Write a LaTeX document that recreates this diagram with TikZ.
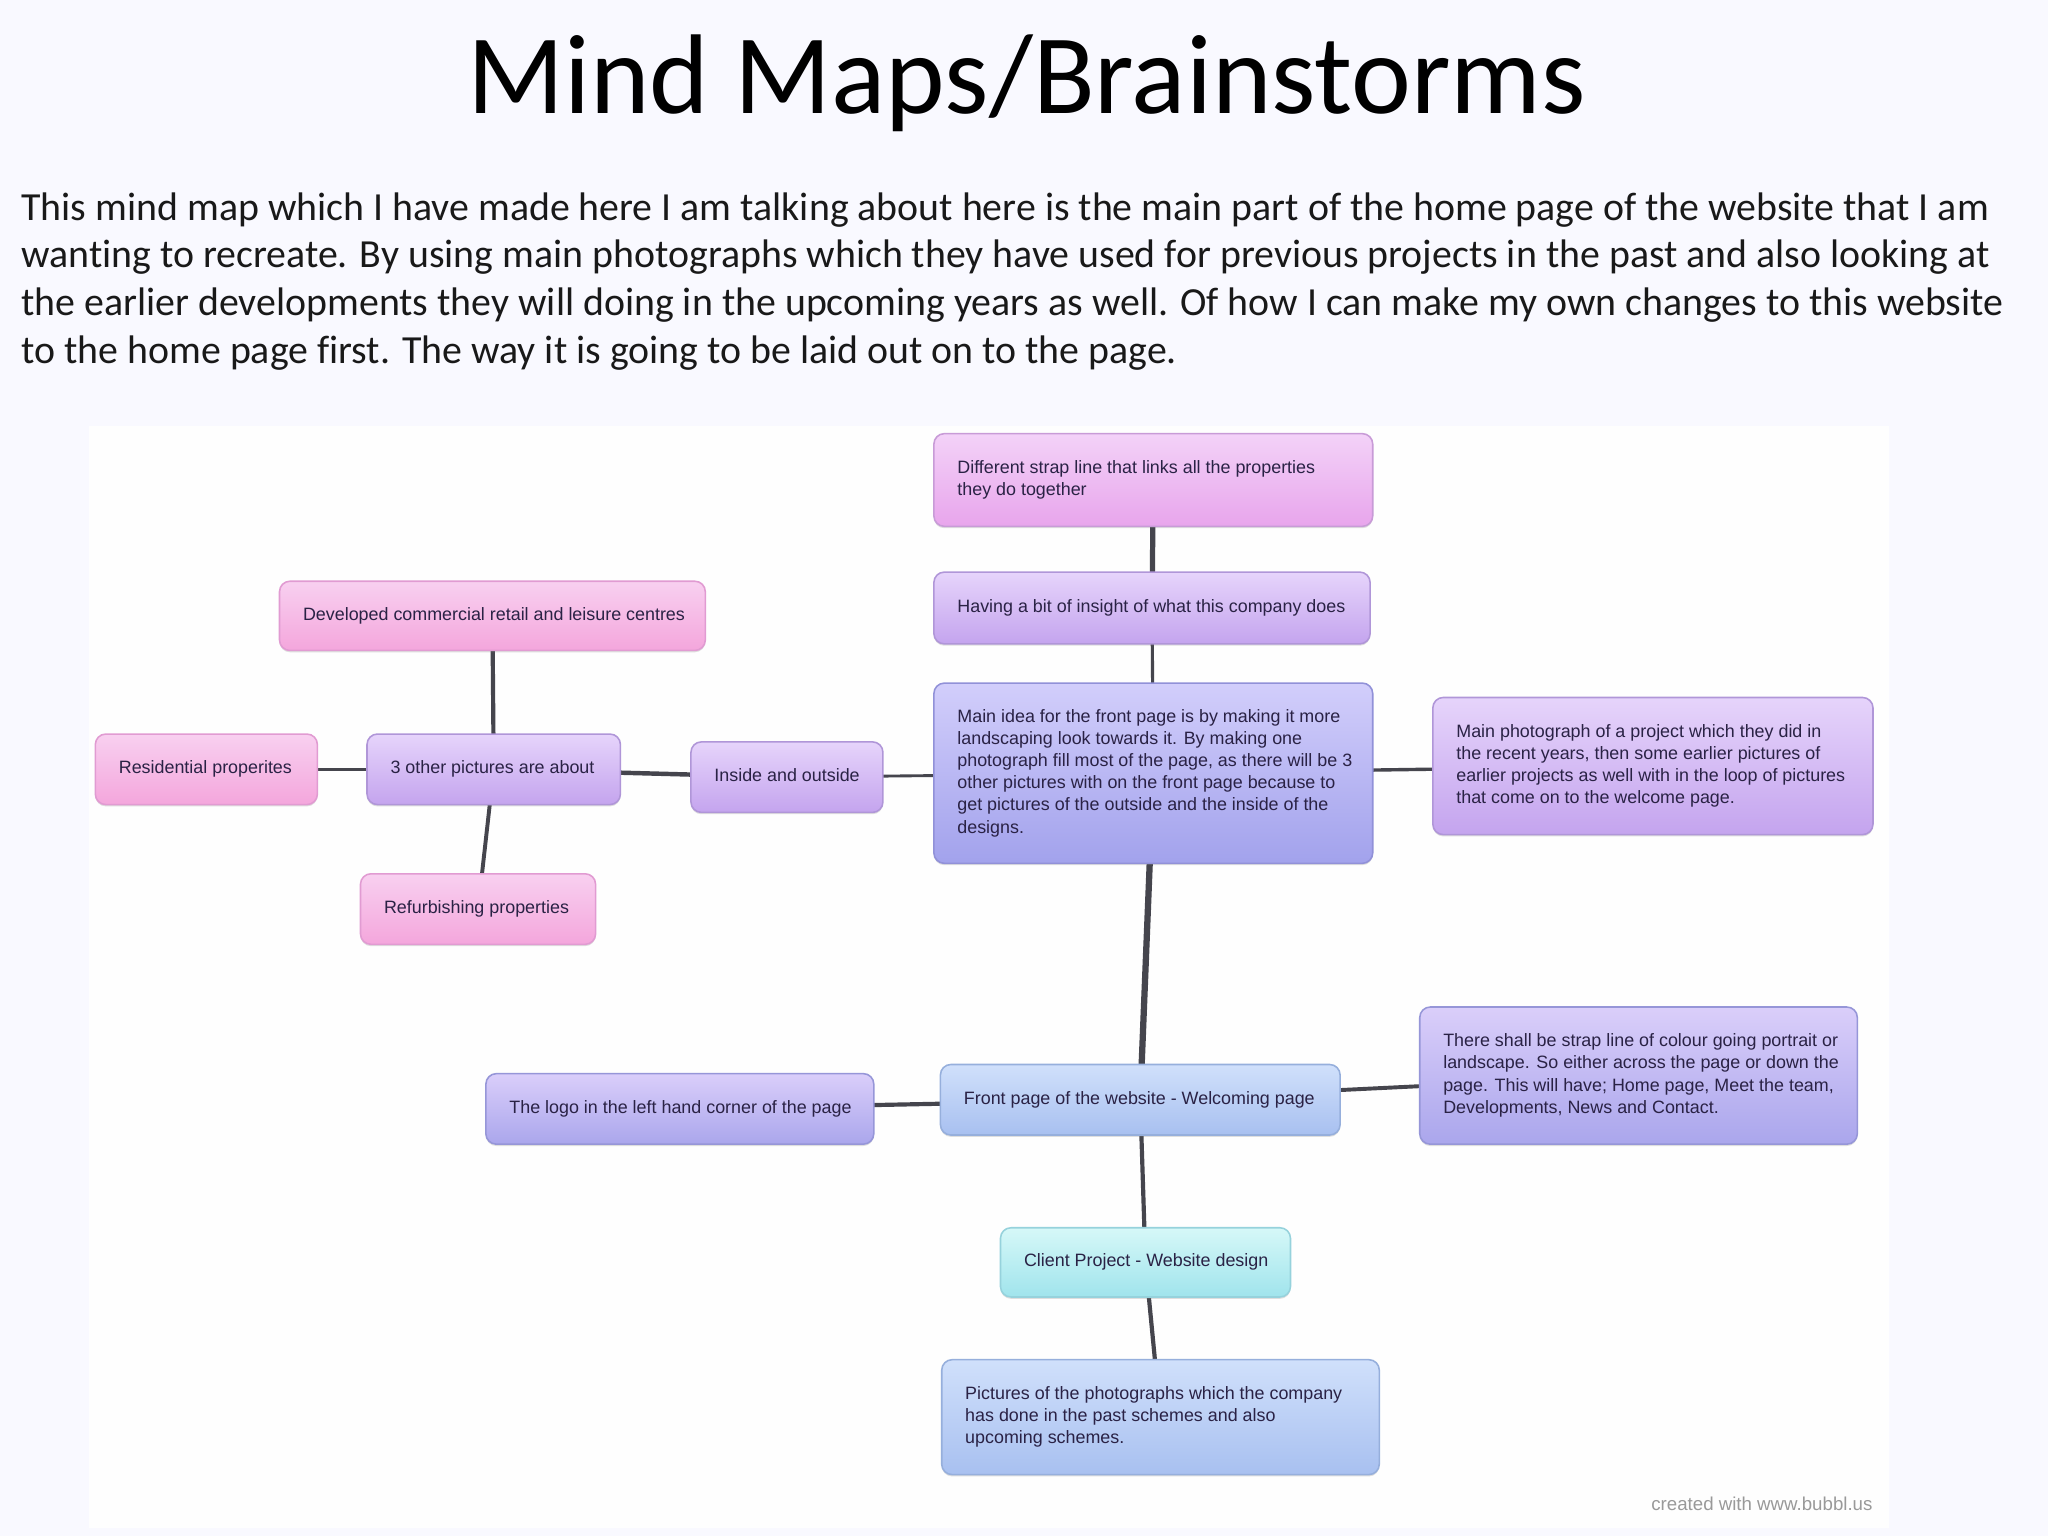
\documentclass[tikz,border=0pt]{standalone}
\usepackage{fontspec}
\setmainfont[Ligatures=NoCommon]{Carlito}
\newfontfamily\boxfont{Liberation Sans}
\usetikzlibrary{shadows,backgrounds}
\definecolor{pagebg}{HTML}{F9F9FF}
\definecolor{panelbg}{HTML}{FEFEFE}
\definecolor{linkcol}{HTML}{45454D}
\definecolor{boxtext}{HTML}{2A2245}
\tikzset{
  mapbox/.style={draw, line width=.6pt, rounded corners=4pt, inner sep=0pt, outer sep=0pt, text=boxtext,
    font=\boxfont\fontsize{6.85}{8.5}\selectfont,
    drop shadow={shadow xshift=0pt, shadow yshift=-.7pt, opacity=.25, fill=black!50}},
  pinkb/.style={mapbox, draw={rgb,255:red,225;green,155;blue,210}, top color={rgb,255:red,248;green,208;blue,240}, middle color={rgb,255:red,252;green,196;blue,236}, bottom color={rgb,255:red,244;green,166;blue,220}},
  orchidb/.style={mapbox, draw={rgb,255:red,200;green,155;blue,215}, top color={rgb,255:red,243;green,210;blue,248}, middle color={rgb,255:red,253;green,200;blue,251}, bottom color={rgb,255:red,232;green,165;blue,236}},
  lilacb/.style={mapbox, draw={rgb,255:red,176;green,150;blue,216}, top color={rgb,255:red,230;green,212;blue,251}, middle color={rgb,255:red,222;green,196;blue,248}, bottom color={rgb,255:red,196;green,164;blue,238}},
  violetb/.style={mapbox, draw={rgb,255:red,145;green,145;blue,216}, top color={rgb,255:red,210;green,206;blue,251}, middle color={rgb,255:red,186;green,184;blue,246}, bottom color={rgb,255:red,162;green,162;blue,236}},
  periwb/.style={mapbox, draw={rgb,255:red,150;green,150;blue,216}, top color={rgb,255:red,218;green,206;blue,250}, middle color={rgb,255:red,198;green,188;blue,246}, bottom color={rgb,255:red,170;green,166;blue,236}},
  blueb/.style={mapbox, draw={rgb,255:red,150;green,175;blue,220}, top color={rgb,255:red,208;green,224;blue,251}, middle color={rgb,255:red,192;green,212;blue,248}, bottom color={rgb,255:red,168;green,192;blue,240}},
  cyanb/.style={mapbox, draw={rgb,255:red,150;green,210;blue,220}, top color={rgb,255:red,214;green,248;blue,248}, middle color={rgb,255:red,196;green,240;blue,244}, bottom color={rgb,255:red,160;green,228;blue,236}},
  link/.style={draw=linkcol, line cap=butt},
}
\newcommand{\mmnode}[7]{%
  \pgfmathsetmacro{\mmw}{(#4-#2)/2}%
  \pgfmathsetmacro{\mmh}{(#5-#3)/2}%
  \node[#6, minimum width=\mmw pt, minimum height=\mmh pt] (#1) at ({(#2+#4)/2},{(#3+#5)/2})
    {\makebox[\mmw pt][l]{\hspace{9pt}\raisebox{-1pt}{\begin{tabular}{@{}l@{}}#7\end{tabular}}}};%
}
\begin{document}
\begin{tikzpicture}[x=.5pt,y=-.5pt]
\useasboundingbox (0,0) rectangle (1568,1176);
\node[font=\fontsize{43.4}{52}\selectfont, text=black, inner sep=0pt] (title) at (786,64) {Mind Maps/Brainstorms};
\node[anchor=north west, inner sep=0pt, align=left, text=black!90, font=\fontsize{15.25}{18.25}\selectfont] (intro) at (16,147) {This mind map which I have made here I am talking about here is the main part of the home page of the website that I am\\
wanting to recreate. By using main photographs which they have used for previous projects in the past and also looking at\\
the earlier developments they will doing in the upcoming years as well. Of how I can make my own changes to this website\\
to the home page first. The way it is going to be laid out on to the page.};

\mmnode{strap}{715}{332}{1051}{403}{orchidb}{Different strap line that links all the properties\\they do together}
\mmnode{insight}{715}{438}{1049}{493}{lilacb}{Having a bit of insight of what this company does}
\mmnode{main}{715}{523}{1051}{661}{violetb}{Main idea for the front page is by making it more\\landscaping look towards it. By making one\\photograph fill most of the page, as there will be 3\\other pictures with on the front page because to\\get pictures of the outside and the inside of the\\designs.}
\mmnode{photo}{1097}{534}{1434}{639}{lilacb}{Main photograph of a project which they did in\\the recent years, then some earlier pictures of\\earlier projects as well with in the loop of pictures\\that come on to the welcome page.}
\mmnode{inout}{529}{568}{676}{622}{lilacb}{Inside and outside}
\mmnode{three}{281}{562}{475}{616}{lilacb}{3 other pictures are about}
\mmnode{resid}{73}{562}{243}{616}{pinkb}{Residential properites}
\mmnode{dev}{214}{445}{540}{498}{pinkb}{Developed commercial retail and leisure centres}
\mmnode{refurb}{276}{669}{456}{723}{pinkb}{Refurbishing properties}
\mmnode{front}{720}{815}{1026}{869}{blueb}{Front page of the website - Welcoming page}
\mmnode{logo}{372}{822}{669}{876}{periwb}{The logo in the left hand corner of the page}
\mmnode{strapl}{1087}{771}{1422}{876}{periwb}{There shall be strap line of colour going portrait or\\landscape. So either across the page or down the\\page. This will have; Home page, Meet the team,\\Developments, News and Contact.}
\mmnode{client}{766}{940}{988}{993}{cyanb}{Client Project - Website design}
\mmnode{pics}{721}{1041}{1056}{1129}{blueb}{Pictures of the photographs which the company\\has done in the past schemes and also\\upcoming schemes.}

\node[anchor=east, inner sep=0pt, text=black!40, font=\boxfont\fontsize{7.15}{8}\selectfont] (credit) at (1434,1151) {created with www.bubbl.us};

\begin{pgfonlayer}{background}
\fill[pagebg] (0,0) rectangle (1568,1176);
\fill[panelbg] (68,326) rectangle (1446,1170);
\draw[link, line width=2pt] (strap) -- (insight);
\draw[link, line width=1.2pt] (insight) -- (main);
\draw[link, line width=1.1pt] (main) -- (inout);
\draw[link, line width=1.3pt] (main) -- (photo);
\draw[link, line width=2.4pt] (main) -- (front);
\draw[link, line width=1.7pt] (inout) -- (three);
\draw[link, line width=1.3pt] (three) -- (resid);
\draw[link, line width=1.6pt] (three) -- (dev);
\draw[link, line width=1.5pt] (three) -- (refurb);
\draw[link, line width=1.6pt] (front) -- (logo);
\draw[link, line width=1.5pt] (front) -- (strapl);
\draw[link, line width=1.6pt] (front) -- (client);
\draw[link, line width=1.6pt] (client) -- (pics);
\end{pgfonlayer}
\end{tikzpicture}
\end{document}
